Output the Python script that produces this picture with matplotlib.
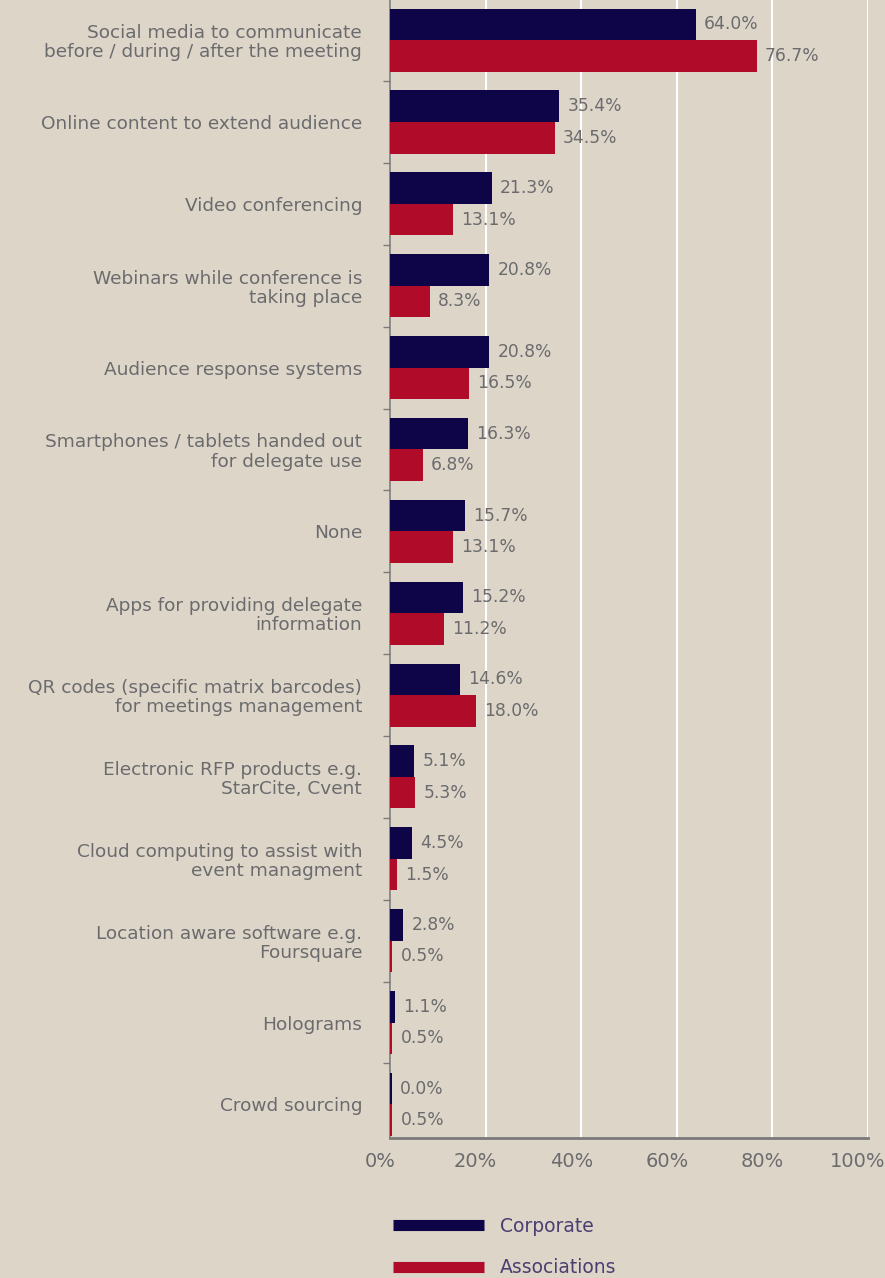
import matplotlib
matplotlib.use('Agg')
import matplotlib.pyplot as plt
import matplotlib.transforms as mtransforms
import numpy as np
from matplotlib.lines import Line2D

categories = [
    'Social media to communicate\nbefore / during / after the meeting',
    'Online content to extend audience',
    'Video conferencing',
    'Webinars while conference is\ntaking place',
    'Audience response systems',
    'Smartphones / tablets handed out\nfor delegate use',
    'None',
    'Apps for providing delegate\ninformation',
    'QR codes (specific matrix barcodes)\nfor meetings management',
    'Electronic RFP products e.g.\nStarCite, Cvent',
    'Cloud computing to assist with\nevent managment',
    'Location aware software e.g.\nFoursquare',
    'Holograms',
    'Crowd sourcing',
]
corporate = [64.0, 35.4, 21.3, 20.8, 20.8, 16.3, 15.7, 15.2, 14.6, 5.1, 4.5, 2.8, 1.1, 0.0]
associations = [76.7, 34.5, 13.1, 8.3, 16.5, 6.8, 13.1, 11.2, 18.0, 5.3, 1.5, 0.5, 0.5, 0.5]
series_names = ['Corporate', 'Associations']

bg = '#ddd5c8'
navy = '#0e0548'
red = '#b00c2a'
grey = '#6b6b6e'

plt.rcParams['font.family'] = ['DejaVu Sans']

fig = plt.figure(figsize=(8.85, 12.78), dpi=100, facecolor=bg)
ax = fig.add_axes([390/885, 1 - 1138/1278, 478/885, 1138/1278])
ax.set_facecolor(bg)

y = np.arange(len(categories))
h = 0.385
ax.barh(y - h/2, np.maximum(corporate, 0.4), height=h, color=navy, zorder=3)
ax.barh(y + h/2, associations, height=h, color=red, zorder=3)

for i in range(len(categories)):
    ax.text(max(corporate[i], 0.4) + 1.7, y[i] - h/2, '%.1f%%' % corporate[i],
            va='center', ha='left', fontsize=12.3, color=grey)
    ax.text(associations[i] + 1.7, y[i] + h/2, '%.1f%%' % associations[i],
            va='center', ha='left', fontsize=12.3, color=grey)

ax.set_xlim(0, 100)
ax.set_ylim(13.41, -0.49)
ax.set_xticks(np.arange(0, 101, 20))
ax.set_xticklabels(['%d%%' % v for v in range(0, 101, 20)], fontsize=14, color=grey)
ax.set_yticks(y)
ax.set_yticklabels(categories, fontsize=13.3, color=grey, linespacing=1.08)
ax.set_yticks(np.arange(0.5, len(categories) - 1, 1), minor=True)
ax.tick_params(axis='y', which='major', length=0, pad=20)
ax.tick_params(axis='y', which='minor', length=5, color='#7a7a7a', width=1)
ax.tick_params(axis='x', length=0, pad=10)
ax.grid(axis='x', color='white', linewidth=1.5, zorder=0)

# tick labels sit a bit left of their gridlines in the original
shift = mtransforms.ScaledTranslation(-10/100, 0, fig.dpi_scale_trans)
for tk in ax.xaxis.get_major_ticks():
    tk.label1.set_transform(tk.label1.get_transform() + shift)

for s in ['top', 'right']:
    ax.spines[s].set_visible(False)
ax.spines['left'].set_color('#7a7a7a')
ax.spines['left'].set_linewidth(1.2)
ax.spines['bottom'].set_color('#7a7a7a')
ax.spines['bottom'].set_linewidth(2)

handles = [Line2D([0], [0], color=navy, lw=8, solid_capstyle='butt'),
           Line2D([0], [0], color=red, lw=8, solid_capstyle='butt')]
leg = fig.legend(handles, series_names, loc='upper left',
                 bbox_to_anchor=(393/885, 1 - 1217/1278), frameon=False,
                 fontsize=13.5, handlelength=4.85, handletextpad=0.85,
                 labelspacing=1.18, borderpad=0, borderaxespad=0)
for t in leg.get_texts():
    t.set_color('#4b3f72')

fig.savefig('out.png', dpi=100, facecolor=bg)
